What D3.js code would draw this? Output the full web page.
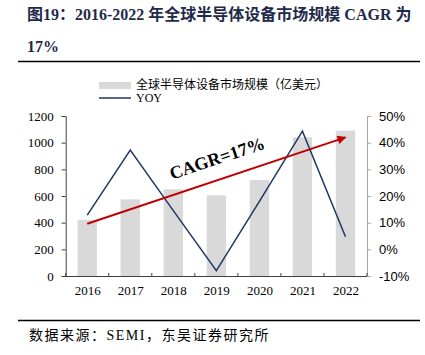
<!DOCTYPE html>
<html><head><meta charset="utf-8">
<script src="https://cdn.jsdelivr.net/npm/d3@7"></script>
<style>
html,body{margin:0;padding:0;background:#fff;}
svg{display:block;}
</style></head>
<body>
<svg id="chart" width="425" height="355"></svg>
<script>
const years = ["2016","2017","2018","2019","2020","2021","2022"];
const marketSize = [420, 575, 650, 605, 720, 1040, 1090];
const yoy = [12.8, 37.2, 14.5, -8.0, 18.0, 44.3, 4.7];
const leftTicks = [0, 200, 400, 600, 800, 1000, 1200];
const rightTicks = [-10, 0, 10, 20, 30, 40, 50];
const cagrStart = 392, cagrEnd = 1040;
const titleLine1 = "图19：2016-2022 年全球半导体设备市场规模 CAGR 为";
const titleLine2 = "17%";
const legendBar = "全球半导体设备市场规模（亿美元）";
const legendLine = "YOY";
const cagrLabel = "CAGR=17%";
const source = "数据来源：SEMI，东吴证券研究所";

const svg = d3.select("#chart");
const serif = "'Liberation Serif','Times New Roman','Noto Sans CJK SC',serif";
const cjk = "'Liberation Serif','Noto Sans CJK SC',serif";
const sans = "'Liberation Sans',Arial,sans-serif";
const navy = "#1f3864";

// Title
svg.append("text").attr("x", 27).attr("y", 20)
  .attr("font-family", cjk).attr("font-weight", "bold").attr("font-size", 16)
  .attr("fill", "#1f2a4a").text(titleLine1);
svg.append("text").attr("x", 27).attr("y", 52)
  .attr("font-family", cjk).attr("font-weight", "bold").attr("font-size", 16)
  .attr("fill", "#1f2a4a").text(titleLine2);
svg.append("line").attr("x1", 18).attr("x2", 420).attr("y1", 61.5).attr("y2", 61.5)
  .attr("stroke", "#000").attr("stroke-width", 1.6);

// Footer
svg.append("line").attr("x1", 18).attr("x2", 420).attr("y1", 320.5).attr("y2", 320.5)
  .attr("stroke", "#000").attr("stroke-width", 1.6);
svg.append("text").attr("x", 29).attr("y", 340)
  .attr("font-family", cjk).attr("font-size", 14).attr("letter-spacing", 1.5)
  .attr("fill", "#000").text(source);

// Scales
const x0 = 65.7, x1 = 367, yTop = 116, yBot = 276;
const x = d3.scaleBand().domain(years).range([x0, x1]).paddingInner(0.55).paddingOuter(0.275);
const xc = d3.scalePoint().domain(years).range([x0, x1]).padding(0.5);
const yL = d3.scaleLinear().domain([0, 1200]).range([yBot, yTop]);
const yR = d3.scaleLinear().domain([-10, 50]).range([yBot, yTop]);

// Bars
svg.append("g").selectAll("rect").data(years).join("rect")
  .attr("x", d => x(d)).attr("width", x.bandwidth())
  .attr("y", (d, i) => yL(marketSize[i]))
  .attr("height", (d, i) => yBot - yL(marketSize[i]))
  .attr("fill", "#d9d9d9");

// Left axis
const gL = svg.append("g").attr("transform", `translate(${x0},0)`)
  .call(d3.axisLeft(yL).tickValues(leftTicks).tickSize(4).tickPadding(8).tickFormat(d3.format("d")));
gL.select(".domain").attr("stroke", "#404040");
gL.selectAll(".tick line").attr("stroke", "#404040");
gL.selectAll("text").attr("font-family", serif).attr("font-size", 13).attr("fill", "#000");

// Right axis
const gR = svg.append("g").attr("transform", `translate(${x1},0)`)
  .call(d3.axisRight(yR).tickValues(rightTicks).tickSize(4).tickPadding(8).tickFormat(d => d + "%"));
gR.select(".domain").attr("stroke", "#a6a6a6");
gR.selectAll(".tick line").attr("stroke", "#a6a6a6");
gR.selectAll("text").attr("font-family", sans).attr("font-size", 13).attr("fill", "#000");

// Bottom axis
const gB = svg.append("g").attr("transform", `translate(0,${yBot})`)
  .call(d3.axisBottom(xc).tickSize(0).tickPadding(10));
gB.select(".domain").remove();
gB.selectAll("text").attr("font-family", serif).attr("font-size", 13).attr("fill", "#000");
svg.append("line").attr("x1", x0).attr("x2", x1).attr("y1", yBot + 0.5).attr("y2", yBot + 0.5)
  .attr("stroke", "#404040");
const step = xc.step();
svg.append("g").selectAll("line").data(d3.range(0, years.length + 1)).join("line")
  .attr("x1", i => x0 + i * step).attr("x2", i => x0 + i * step)
  .attr("y1", yBot - 3).attr("y2", yBot)
  .attr("stroke", "#404040");

// YOY line
svg.append("path").datum(years)
  .attr("d", d3.line().x(d => xc(d)).y((d, i) => yR(yoy[i])))
  .attr("fill", "none").attr("stroke", navy).attr("stroke-width", 1.5);

// CAGR arrow
const defs = svg.append("defs");
defs.append("marker").attr("id", "arr").attr("viewBox", "0 0 10 10")
  .attr("refX", 9).attr("refY", 5).attr("markerWidth", 5).attr("markerHeight", 4.4)
  .attr("orient", "auto").attr("markerUnits", "strokeWidth")
  .append("path").attr("d", "M0,0 L10,5 L0,10 Z").attr("fill", "#c00000");
const ax1 = xc(years[0]), ay1 = yL(cagrStart), ax2 = xc(years[years.length - 1]), ay2 = yL(cagrEnd);
svg.append("line").attr("x1", ax1).attr("y1", ay1).attr("x2", ax2).attr("y2", ay2)
  .attr("stroke", "#c00000").attr("stroke-width", 2).attr("marker-end", "url(#arr)");
const ang = Math.atan2(ay2 - ay1, ax2 - ax1) * 180 / Math.PI;
svg.append("text")
  .attr("transform", `translate(217,158) rotate(${ang})`)
  .attr("text-anchor", "middle").attr("dy", "0.35em")
  .attr("font-family", serif).attr("font-weight", "bold").attr("font-size", 18)
  .attr("fill", "#000").text(cagrLabel);

// Legend
svg.append("rect").attr("x", 99).attr("y", 82).attr("width", 32).attr("height", 7).attr("fill", "#d9d9d9");
svg.append("text").attr("x", 136).attr("y", 89).attr("font-family", cjk).attr("font-size", 12)
  .attr("fill", "#000").text(legendBar);
svg.append("line").attr("x1", 99).attr("x2", 131).attr("y1", 98).attr("y2", 98)
  .attr("stroke", navy).attr("stroke-width", 1.5);
svg.append("text").attr("x", 136).attr("y", 102).attr("font-family", serif).attr("font-size", 12)
  .attr("fill", "#000").text(legendLine);
</script>
</body></html>
